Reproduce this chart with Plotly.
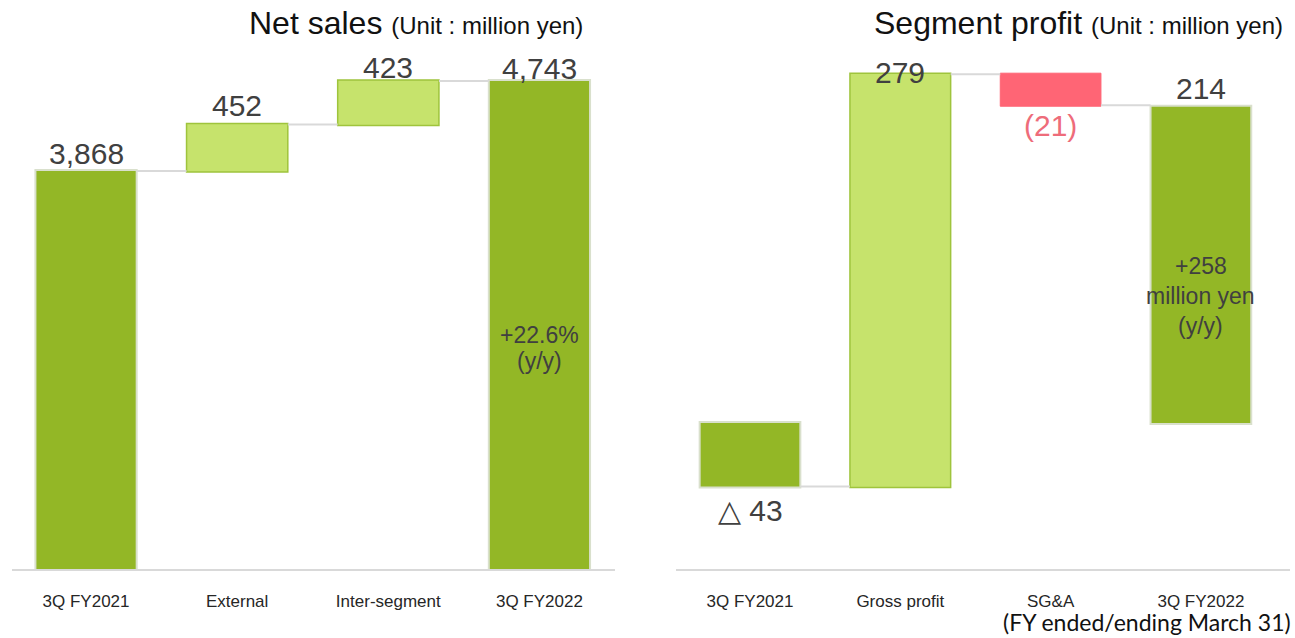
import plotly.graph_objects as go

# ---------------- data ----------------
sales_categories = ["3Q FY2021", "External", "Inter-segment", "3Q FY2022"]
sales_measures = ["absolute", "relative", "relative", "total"]
sales_values = [3868, 452, 423, 0]
sales_labels = ["3,868", "452", "423", "4,743"]
sales_note = ["+22.6%", "(y/y)"]

profit_categories = ["3Q FY2021", "Gross profit", "SG&A", "3Q FY2022"]
profit_measures = ["absolute", "relative", "relative", "absolute"]
profit_values = [-43, 279, -21, 214]
profit_labels = ["△ 43", "279", "(21)", "214"]
profit_note = ["+258", "million yen", "(y/y)"]

# ---------------- style ----------------
W, H = 1295, 638


def px_x(x):
    return min(max(x / W, 0.0), 1.0)


def px_y(y):
    return min(max(1 - y / H, 0.0), 1.0)


DARK = "#93B726"
LIGHT = "#C6E36C"
LIGHT_EDGE = "#9FC43C"
DARK_EDGE = "#D9E0CC"
RED = "#FF6575"
RED_TXT = "#EE6C7A"
GRAY = "#D9D9D9"
TXT = "#404040"
FONT = "Liberation Sans, Arial, sans-serif"

AXIS_PX = 569          # bottom of plotting area (px from top of window)
TOP_PX = 0             # top of plotting area
ydom = [px_y(AXIS_PX), px_y(TOP_PX)]
plot_h = AXIS_PX - TOP_PX

fig = go.Figure()

common = dict(
    width=0.67,
    connector=dict(line=dict(color=GRAY, width=2)),
    increasing=dict(marker=dict(color=LIGHT, line=dict(color=LIGHT_EDGE, width=1.5))),
    decreasing=dict(marker=dict(color=RED, line=dict(color=RED, width=1))),
    totals=dict(marker=dict(color=DARK, line=dict(color=DARK_EDGE, width=2))),
    textposition="none",
    hoverinfo="x+y",
    showlegend=False,
)

fig.add_trace(go.Waterfall(x=sales_categories, y=sales_values, measure=sales_measures,
                           xaxis="x", yaxis="y", **common))
fig.add_trace(go.Waterfall(x=profit_categories, y=profit_values, measure=profit_measures,
                           xaxis="x2", yaxis="y2", **common))

left_scale = 0.1029  # px per unit
right_scale = 1.478
right_zero_px = 423

# right x-axis geometry
R_START, R_END = 676, 1290
r_step = 150.3
r0 = -(750 - R_START) / r_step
r1 = r0 + (R_END - R_START) / r_step

xcommon = dict(type="category", showline=True, linecolor=GRAY, linewidth=2,
               showgrid=False, zeroline=False, ticks="", ticklabelstandoff=16,
               tickfont=dict(family=FONT, size=17, color="#262626"), fixedrange=True)
ycommon = dict(visible=False, showgrid=False, zeroline=False, fixedrange=True, domain=ydom)

fig.update_layout(
    width=W, height=H,
    margin=dict(l=0, r=0, t=0, b=0),
    paper_bgcolor="white", plot_bgcolor="white",
    xaxis=dict(domain=[px_x(12), px_x(615)], range=[-0.49, 3.5], anchor="y", **xcommon),
    yaxis=dict(range=[0, plot_h / left_scale], anchor="x", **ycommon),
    xaxis2=dict(domain=[px_x(R_START), px_x(R_END)], range=[r0, r1], anchor="y2", **xcommon),
    yaxis2=dict(range=[-(AXIS_PX - right_zero_px) / right_scale,
                       (right_zero_px - TOP_PX) / right_scale],
                anchor="x2", **ycommon),
)

ann = []

# value labels, left chart
cum = 0
sales_tops = []
for m, v in zip(sales_measures, sales_values):
    if m == "absolute":
        cum = v
    elif m == "relative":
        cum += v
    sales_tops.append(cum)
sales_shift = [17, 19, 13, 12]
for i, (cat, top, lab) in enumerate(zip(sales_categories, sales_tops, sales_labels)):
    ann.append(dict(x=cat, y=top, xref="x", yref="y", text=lab, showarrow=False,
                    yanchor="middle", yshift=sales_shift[i],
                    font=dict(family=FONT, size=30, color=TXT)))

# value labels, right chart
cum = 0
ends = []
for m, v in zip(profit_measures, profit_values):
    start = 0 if m == "absolute" else cum
    cum = v if m == "absolute" else cum + v
    ends.append((start, cum))
profit_shift = [-24, 2, -20, 18]
for i, (cat, (s, e), lab) in enumerate(zip(profit_categories, ends, profit_labels)):
    yv = min(s, e) if profit_values[i] < 0 else max(s, e)
    color = RED_TXT if (profit_measures[i] == "relative" and profit_values[i] < 0) else TXT
    ann.append(dict(x=cat, y=yv, xref="x2", yref="y2", text=lab, showarrow=False,
                    yanchor="middle", yshift=profit_shift[i],
                    font=dict(family=FONT, size=30, color=color)))

# notes inside final bars (one annotation per line)
for j, line in enumerate(sales_note):
    ann.append(dict(x=sales_categories[3], y=sales_tops[3] * 0.457, xref="x", yref="y",
                    text=line, showarrow=False, yanchor="middle", yshift=11 - 26 * j,
                    font=dict(family=FONT, size=23, color=TXT)))
for j, line in enumerate(profit_note):
    ann.append(dict(x=profit_categories[3], y=profit_values[3] * 0.40, xref="x2", yref="y2",
                    text=line, showarrow=False, yanchor="middle", yshift=30 - 30 * j,
                    font=dict(family=FONT, size=23, color=TXT)))

# titles
ann.append(dict(x=px_x(247), y=px_y(23), xref="paper", yref="paper", xanchor="left",
                yanchor="middle", showarrow=False,
                text="Net sales <span style='font-size:24px'>(Unit : million yen)</span>",
                font=dict(family=FONT, size=32, color="#111111")))
ann.append(dict(x=px_x(872), y=px_y(23), xref="paper", yref="paper", xanchor="left",
                yanchor="middle", showarrow=False,
                text="Segment profit <span style='font-size:24px'>(Unit : million yen)</span>",
                font=dict(family=FONT, size=32, color="#111111")))
ann.append(dict(x=px_x(1293), y=px_y(622), xref="paper", yref="paper", xanchor="right",
                yanchor="middle", showarrow=False,
                text="(FY ended/ending March 31)",
                font=dict(family="Lato, Open Sans, sans-serif", size=23, color="#111111")))

fig.update_layout(annotations=ann)
fig.write_html("out.html",
               config={"displayModeBar": False},
               post_script="document.body.style.margin='0';document.body.style.overflow='hidden';")
